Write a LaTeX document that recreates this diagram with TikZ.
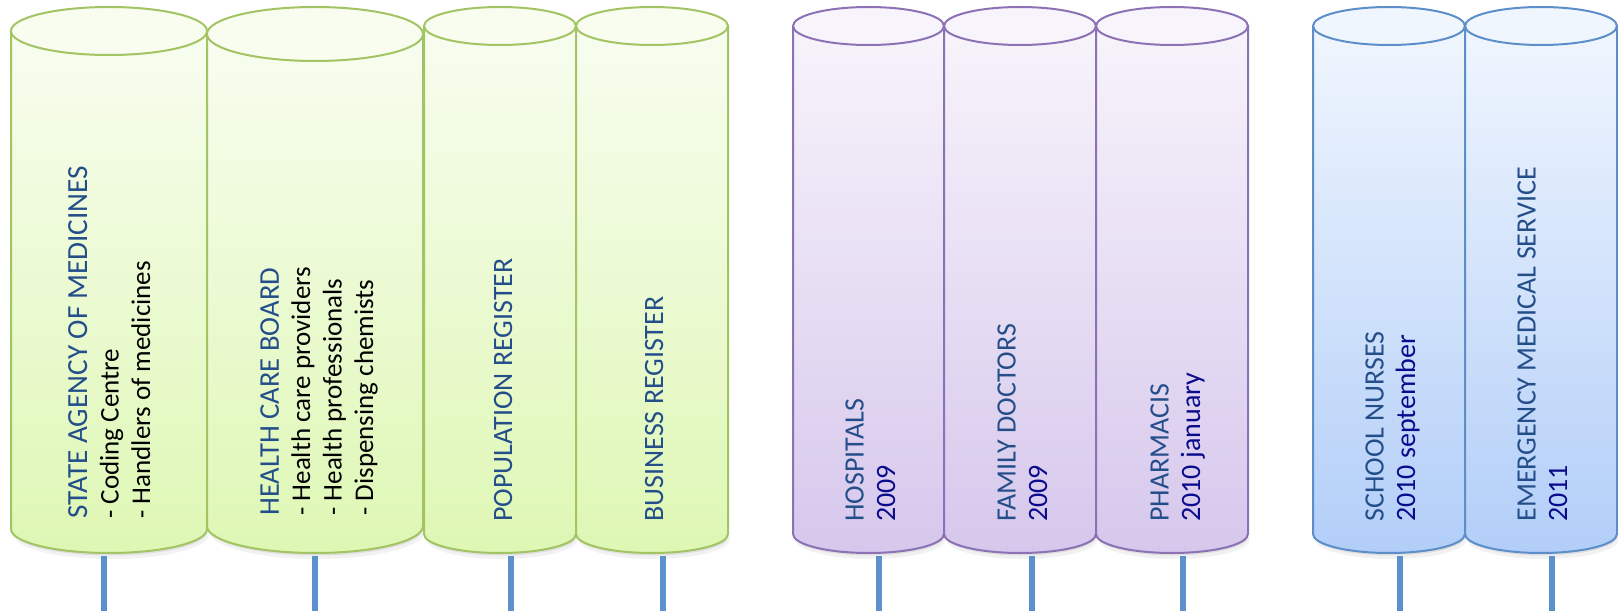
\documentclass[tikz,border=0pt]{standalone}
\usepackage{fontspec}
\setmainfont{Carlito}

\definecolor{titleblue}{RGB}{36,78,138}
\definecolor{yearblue}{RGB}{10,10,140}
\definecolor{stemblue}{RGB}{91,146,203}
\definecolor{greenEdge}{RGB}{163,196,98}
\definecolor{greenTop}{RGB}{248,253,240}
\definecolor{greenLow}{RGB}{222,247,180}
\definecolor{purpleEdge}{RGB}{140,114,180}
\definecolor{purpleTop}{RGB}{247,244,251}
\definecolor{purpleLow}{RGB}{214,199,236}
\definecolor{blueEdge}{RGB}{92,142,202}
\definecolor{blueTop}{RGB}{240,246,254}
\definecolor{blueLow}{RGB}{178,206,248}

\newcommand\drumtitle[2][14]{{\fontsize{#1}{15.7}\selectfont\textcolor{titleblue}{#2}}}
\newcommand\drumyear[1]{{\fontsize{14}{15.7}\selectfont\textcolor{yearblue}{#1}}}

\tikzset{
  drum label/.style={rotate=90, anchor=base west, inner sep=0pt, align=left,
    font=\fontsize{13.5}{15.7}\selectfont},
  stem/.style={stemblue, line width=2.6pt},
}

\begin{document}
\begin{tikzpicture}[x=0.5pt, y=-0.5pt]
\fill[white] (0,0) rectangle (1618,615);
\useasboundingbox (0,0) rectangle (1618,615);

% the drums: left edge / right edge / top centre / bottom centre / end radius / colour
\foreach \xl/\xr/\yt/\yb/\ry/\c in {11/207/31/529/24/green, 207/423/34/526/27/green,
    424/576/26/534/19/green, 576/728/26/534/19/green,
    793/944/26/534/19/purple, 944/1096/26/534/19/purple, 1096/1248/26/534/19/purple,
    1313/1465/26/534/19/blue, 1465/1617/26/534/19/blue}{
  \pgfmathsetmacro\cx{(\xl+\xr)/2}
  \pgfmathsetmacro\rx{(\xr-\xl)/2}
  % soft shadow under the drum
  \fill[black, opacity=0.05] (\cx+2,\yb+5) ellipse [x radius=\rx, y radius=\ry+1];
  \fill[black, opacity=0.08] (\cx+1,\yb+2.5) ellipse [x radius=\rx-1, y radius=\ry];
  % body and lid
  \draw[draw=\c Edge, line width=1pt, top color=\c Top, bottom color=\c Low]
    (\xl,\yt) -- (\xl,\yb) arc [start angle=180, end angle=0, x radius=\rx, y radius=\ry]
    -- (\xr,\yt) -- cycle;
  \draw[draw=\c Edge, line width=1pt, fill=\c Top] (\cx,\yt) ellipse [x radius=\rx, y radius=\ry];
}

% registers (each label sits on the baseline of its last line)
\node[drum label] (sam) at (150,519) {\drumtitle[14.6]{STATE AGENCY OF MEDICINES}\\
  - Coding Centre\\- Handlers of medicines};
\node[drum label] (hcb) at (373,516) {\drumtitle[14.3]{HEALTH CARE BOARD}\\
  - Health care providers\\- Health professionals\\- Dispensing chemists};
\node[drum label] (pop) at (512,522) {\drumtitle{POPULATION REGISTER}};
\node[drum label] (bus) at (663,522) {\drumtitle{BUSINESS REGISTER}};

% health care providers
\node[drum label] (hosp) at (895,522) {\drumtitle{HOSPITALS}\\\drumyear{2009}};
\node[drum label] (fam) at (1047,522) {\drumtitle{FAMILY DOCTORS}\\\drumyear{2009}};
\node[drum label] (pharm) at (1200,522) {\drumtitle{PHARMACIS}\\\drumyear{2010 january}};

% later joiners
\node[drum label] (nurse) at (1415,522) {\drumtitle{SCHOOL NURSES}\\\drumyear{2010 september}};
\node[drum label] (ems) at (1567,522) {\drumtitle{EMERGENCY MEDICAL SERVICE}\\\drumyear{2011}};

% stems below the drums
\foreach \n/\x in {sam/104, hcb/315, pop/511, bus/663, hosp/879, fam/1032, pharm/1183,
    nurse/1400, ems/1552}{
  \coordinate (\n-top) at (\x,556);
  \coordinate (\n-end) at (\x,611);
  \draw[stem] (\n-top) -- (\n-end);
}
\end{tikzpicture}
\end{document}
